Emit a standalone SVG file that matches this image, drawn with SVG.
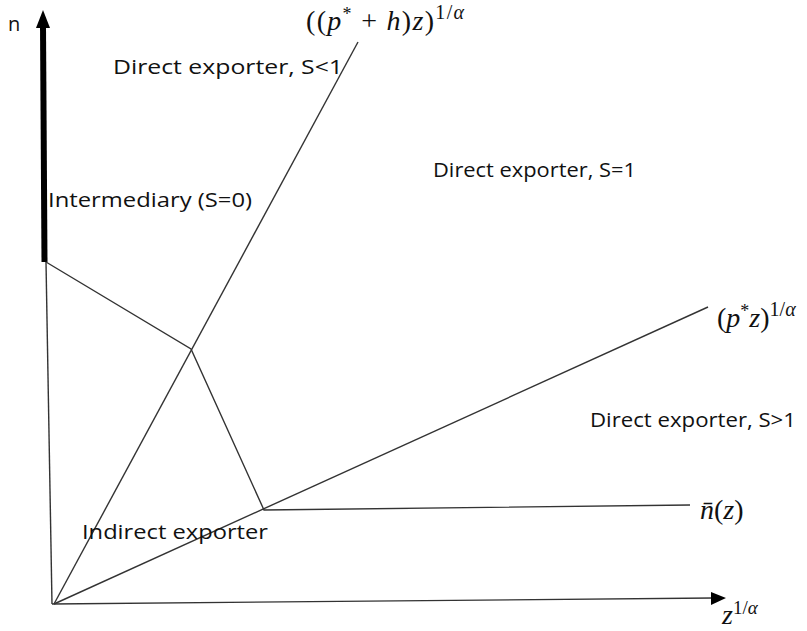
<svg xmlns="http://www.w3.org/2000/svg" width="807" height="631" viewBox="0 0 807 631">
<style>
.ln{stroke:#333;stroke-width:1.4;fill:none}
.lbl{font-family:"Open Sans","Liberation Sans",sans-serif;font-size:20px;fill:#111}
.m{font-family:"Liberation Serif",serif;font-size:28px;fill:#111}
.i{font-style:italic}
</style>
<rect width="807" height="631" fill="#fff"/>
<g id="connectors">
<line x1="52" y1="604" x2="713" y2="598" class="ln"/>
<path d="M711,592 L726,598 L711,605 Z" fill="#000"/>
<line x1="46" y1="262" x2="52" y2="604" class="ln"/>
<line x1="44.5" y1="262" x2="43" y2="26" stroke="#000" stroke-width="6"/>
<path d="M36,28 L43,10 L50,28 Z" fill="#000"/>
<line x1="54" y1="604" x2="358" y2="42" class="ln"/>
<line x1="54" y1="604" x2="708" y2="307" class="ln"/>
<polyline points="46,262 191,349 264,510 690,505" class="ln"/>
</g>
<g id="axis-n"><text x="8" y="31" class="lbl" font-size="22">n</text></g>
<g id="axis-z"><text x="722" y="624" class="m" font-size="25"><tspan class="i">z</tspan><tspan dy="-10" font-size="19">1/</tspan><tspan font-size="19" class="i">α</tspan></text></g>
<g id="label-ph"><text x="306" y="30" class="m" textLength="158" lengthAdjust="spacing">((<tspan class="i">p</tspan><tspan dy="-10" font-size="18">*</tspan><tspan dy="10"> + </tspan><tspan class="i">h</tspan>)<tspan class="i">z</tspan>)<tspan dy="-11" font-size="20">1/</tspan><tspan font-size="20" class="i">α</tspan></text></g>
<g id="label-pz"><text x="717" y="327" class="m">(<tspan class="i">p</tspan><tspan dy="-10" font-size="18">*</tspan><tspan dy="10" class="i">z</tspan>)<tspan dy="-11" font-size="20">1/</tspan><tspan font-size="20" class="i">α</tspan></text></g>
<g id="label-nbar"><text x="700" y="519" class="m"><tspan class="i">n̄</tspan>(<tspan class="i">z</tspan>)</text></g>
<g id="region-s-lt1"><text x="113" y="74" class="lbl" textLength="230" lengthAdjust="spacingAndGlyphs">Direct exporter, S&lt;1</text></g>
<g id="region-s-eq1"><text x="433" y="177" class="lbl" textLength="203" lengthAdjust="spacingAndGlyphs">Direct exporter, S=1</text></g>
<g id="region-s-gt1"><text x="590" y="427" class="lbl" textLength="206" lengthAdjust="spacingAndGlyphs">Direct exporter, S&gt;1</text></g>
<g id="region-int"><text x="48" y="207" class="lbl" textLength="204" lengthAdjust="spacingAndGlyphs">Intermediary (S=0)</text></g>
<g id="region-ind"><text x="82" y="539" class="lbl" font-size="24" textLength="186" lengthAdjust="spacingAndGlyphs">Indirect exporter</text></g>
</svg>
